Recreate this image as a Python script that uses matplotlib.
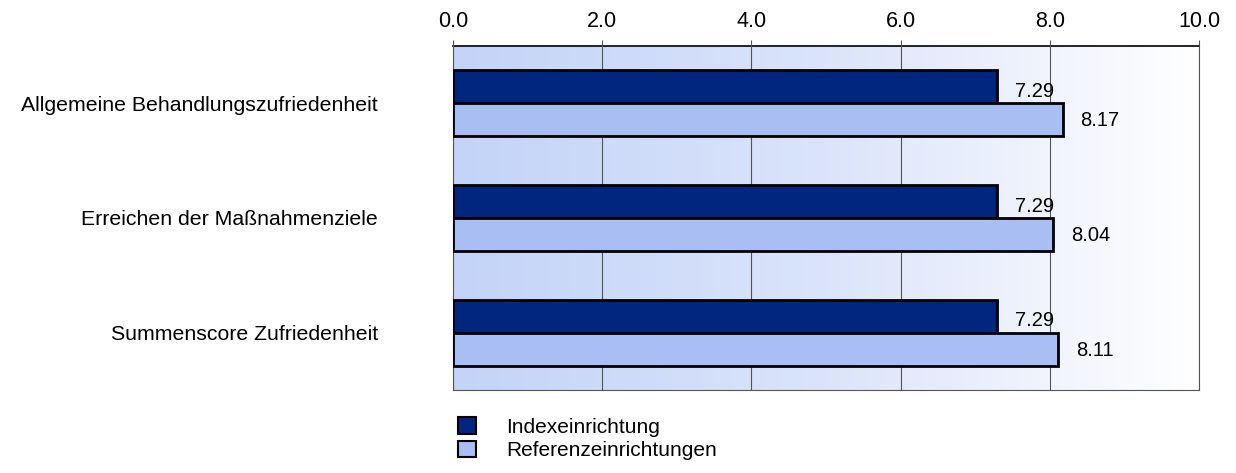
import matplotlib.pyplot as plt
import numpy as np
from matplotlib.patches import Patch
from matplotlib.colors import LinearSegmentedColormap

plt.rcParams['font.family'] = ['Liberation Sans', 'DejaVu Sans']

# Daten
kategorien = ['Allgemeine Behandlungszufriedenheit', 'Erreichen der Maßnahmenziele', 'Summenscore Zufriedenheit']
index_werte = [7.29, 7.29, 7.29]
referenz_werte = [8.17, 8.04, 8.11]
serien = ['Indexeinrichtung', 'Referenzeinrichtungen']

fig = plt.figure(figsize=(12.36, 4.73), dpi=100)
ax = fig.add_axes([0.3665, 0.1755, 0.6036, 0.7273])

# Hintergrund mit Farbverlauf (hellblau -> weiss)
grad = np.linspace(0, 1, 256).reshape(1, -1)
cmap = LinearSegmentedColormap.from_list('bg', ['#c3d4f8', '#dbe4fa', '#ffffff'])
ax.imshow(grad, extent=[0, 1, 0, 1], transform=ax.transAxes, aspect='auto', cmap=cmap, zorder=0)

y = np.arange(len(kategorien))
h = 0.288
ax.barh(y - h / 2, index_werte, height=h, color='#00267f', edgecolor='black', linewidth=2, zorder=3)
ax.barh(y + h / 2, referenz_werte, height=h, color='#a9bff3', edgecolor='black', linewidth=2, zorder=3)

# Wertebeschriftungen
for i in range(len(kategorien)):
    ax.text(index_werte[i] + 0.24, y[i] - h / 2 + 0.04, f'{index_werte[i]:.2f}',
            va='center', ha='left', fontsize=14.5, zorder=4)
    ax.text(referenz_werte[i] + 0.24, y[i] + h / 2 + 0.01, f'{referenz_werte[i]:.2f}',
            va='center', ha='left', fontsize=14.5, zorder=4)

ax.set_xlim(0, 10)
ax.set_ylim(2.5, -0.5)
ax.set_xticks(np.arange(0, 10.1, 2))
ax.set_xticklabels([f'{v:.1f}' for v in np.arange(0, 10.1, 2)])
ax.xaxis.tick_top()
ax.tick_params(axis='x', length=4.3, color='#555555', labelsize=15.5, pad=6)
ax.grid(axis='x', color='#555555', linewidth=0.8, zorder=1)
ax.set_axisbelow(False)

ax.set_yticks(y)
ax.set_yticklabels(kategorien)
ax.tick_params(axis='y', length=0, labelsize=15.3, pad=54)
for lbl in ax.get_yticklabels():
    lbl.set_y(lbl.get_position()[1])
    lbl.set_verticalalignment('center_baseline')

for s in ['left', 'right', 'bottom']:
    ax.spines[s].set_color('#555555')
    ax.spines[s].set_linewidth(0.8)
ax.spines['top'].set_color('black')
ax.spines['top'].set_linewidth(1.2)

# Legende
handles = [Patch(facecolor='#00267f', edgecolor='black', linewidth=1.5),
           Patch(facecolor='#a9bff3', edgecolor='black', linewidth=1.5)]
fig.legend(handles, serien, loc='upper left', bbox_to_anchor=(458 / 1236, 1 - 417 / 473),
           frameon=False, fontsize=15, handlelength=0.85, handleheight=0.85, handletextpad=1.45,
           labelspacing=0.2, borderaxespad=0, borderpad=0)

fig.savefig('out.png', dpi=100)
